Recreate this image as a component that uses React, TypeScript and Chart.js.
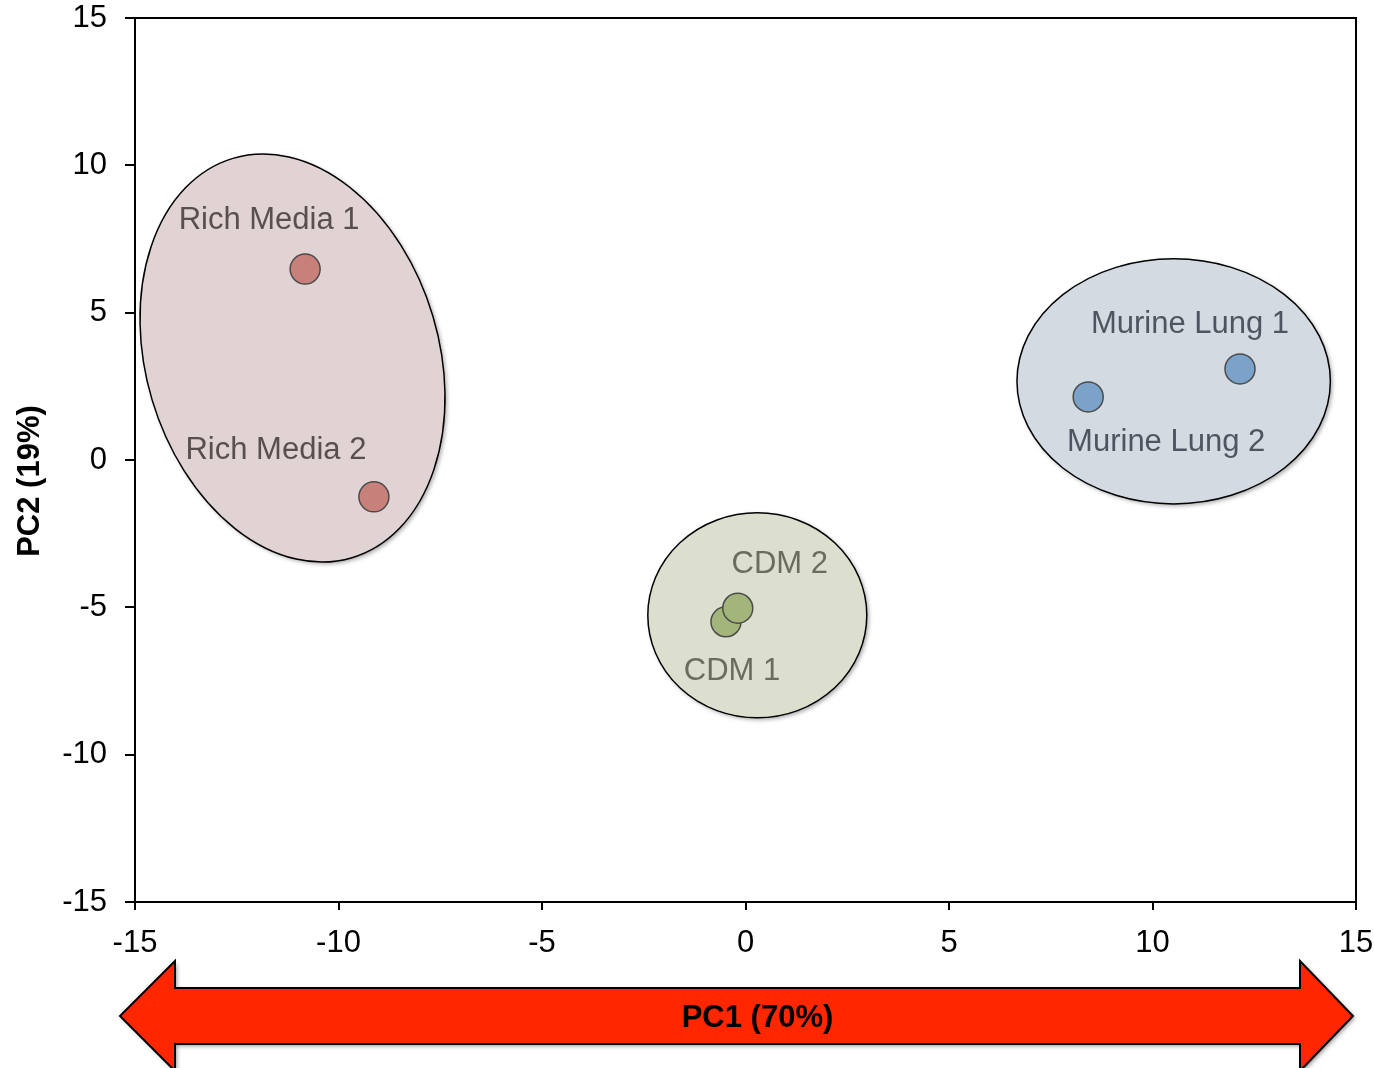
import React, { useEffect, useRef } from "react";
import { Chart, registerables } from "chart.js";

Chart.register(...registerables);

// ---- Data ----
const SAMPLE_NAMES = ["Rich Media 1", "Rich Media 2", "Murine Lung 1", "Murine Lung 2", "CDM 1", "CDM 2"];
const PC1 = [-10.82, -9.13, 12.15, 8.42, -0.48, -0.19];
const PC2 = [6.48, -1.25, 3.09, 2.14, -5.49, -5.03];
const SAMPLE_GROUP = [0, 0, 1, 1, 2, 2];
const GROUP_NAMES = ["Rich Media", "Murine Lung", "CDM"];

// group ellipses (centre in data units, radii in axis units, rotation in degrees)
const ELLIPSE_CX = [-11.13, 10.52, 0.29];
const ELLIPSE_CY = [3.46, 2.67, -5.27];
const ELLIPSE_RX = [3.6, 3.85, 2.69];
const ELLIPSE_RY = [7.07, 4.16, 3.48];
const ELLIPSE_ROT = [-16.6, 0, 0];

const X_TITLE = "PC1 (70%)";
const Y_TITLE = "PC2 (19%)";
const AXIS_MIN = -15;
const AXIS_MAX = 15;
const AXIS_STEP = 5;

// ---- Styles ----
const GROUP_POINT_COLORS = ["#c8807b", "#7ba2c9", "#a4b57c"];
const GROUP_FILL_COLORS = ["#e1d3d3", "#d3dae1", "#dcdfcd"];
const GROUP_TEXT_COLORS = ["#5a4f4f", "#4e5560", "#6a6d5c"];
// label offsets from each point (px)
const LABEL_DX = [-36, -98, -50, 78, 6, 42];
const LABEL_DY = [-49, -46, -44, 46, 50, -44];
const FONT = "'Liberation Sans', Arial, Helvetica, sans-serif";

const decorPlugin = {
  id: "decor",
  beforeDatasetsDraw(chart: any) {
    const ctx = chart.ctx;
    const xs = chart.scales.x;
    const ys = chart.scales.y;
    const pxX = Math.abs(xs.getPixelForValue(1) - xs.getPixelForValue(0));
    const pxY = Math.abs(ys.getPixelForValue(1) - ys.getPixelForValue(0));
    for (let i = 0; i < ELLIPSE_CX.length; i++) {
      const cx = xs.getPixelForValue(ELLIPSE_CX[i]);
      const cy = ys.getPixelForValue(ELLIPSE_CY[i]);
      ctx.save();
      ctx.beginPath();
      ctx.ellipse(cx, cy, ELLIPSE_RX[i] * pxX, ELLIPSE_RY[i] * pxY, (ELLIPSE_ROT[i] * Math.PI) / 180, 0, Math.PI * 2);
      ctx.shadowColor = "rgba(0,0,0,0.35)";
      ctx.shadowBlur = 4;
      ctx.shadowOffsetX = 2;
      ctx.shadowOffsetY = 2;
      ctx.fillStyle = GROUP_FILL_COLORS[i];
      ctx.fill();
      ctx.shadowColor = "rgba(0,0,0,0)";
      ctx.lineWidth = 1.5;
      ctx.strokeStyle = "#000";
      ctx.stroke();
      ctx.restore();
    }
  },
  afterDatasetsDraw(chart: any) {
    const ctx = chart.ctx;
    const xs = chart.scales.x;
    const ys = chart.scales.y;
    ctx.save();
    ctx.font = `31px ${FONT}`;
    ctx.textAlign = "center";
    ctx.textBaseline = "middle";
    for (let i = 0; i < SAMPLE_NAMES.length; i++) {
      const px = xs.getPixelForValue(PC1[i]) + LABEL_DX[i];
      const py = ys.getPixelForValue(PC2[i]) + LABEL_DY[i];
      ctx.fillStyle = GROUP_TEXT_COLORS[SAMPLE_GROUP[i]];
      ctx.fillText(SAMPLE_NAMES[i], px, py);
    }
    ctx.restore();
  },
  afterDraw(chart: any) {
    const ctx = chart.ctx;
    const a = chart.chartArea;
    ctx.save();
    // frame top/right
    ctx.strokeStyle = "#000";
    ctx.lineWidth = 2;
    ctx.beginPath();
    ctx.moveTo(a.left - 10, a.top);
    ctx.lineTo(a.right, a.top);
    ctx.lineTo(a.right, a.bottom);
    ctx.stroke();

    // y title
    ctx.save();
    ctx.translate(30, (a.top + a.bottom) / 2 + 21);
    ctx.rotate(-Math.PI / 2);
    ctx.font = `bold 31px ${FONT}`;
    ctx.fillStyle = "#000";
    ctx.textAlign = "center";
    ctx.textBaseline = "middle";
    ctx.fillText(Y_TITLE, 0, 0);
    ctx.restore();

    // red double arrow with x title
    const cy = a.bottom + 114;
    const hh = 55;
    const bh = 28;
    const lt = a.left - 15;
    const lb = a.left + 40;
    const rb = a.right - 56;
    const rt = a.right - 3;
    ctx.beginPath();
    ctx.moveTo(lt, cy);
    ctx.lineTo(lb, cy - hh);
    ctx.lineTo(lb, cy - bh);
    ctx.lineTo(rb, cy - bh);
    ctx.lineTo(rb, cy - hh);
    ctx.lineTo(rt, cy);
    ctx.lineTo(rb, cy + hh);
    ctx.lineTo(rb, cy + bh);
    ctx.lineTo(lb, cy + bh);
    ctx.lineTo(lb, cy + hh);
    ctx.closePath();
    ctx.shadowColor = "rgba(0,0,0,0.4)";
    ctx.shadowBlur = 4;
    ctx.shadowOffsetX = 2;
    ctx.shadowOffsetY = 2;
    ctx.fillStyle = "#ff2600";
    ctx.fill();
    ctx.shadowColor = "rgba(0,0,0,0)";
    ctx.lineWidth = 2;
    ctx.strokeStyle = "#000";
    ctx.stroke();

    ctx.font = `bold 31px ${FONT}`;
    ctx.fillStyle = "#000";
    ctx.textAlign = "center";
    ctx.textBaseline = "middle";
    ctx.fillText(X_TITLE, (a.left + a.right) / 2 + 12, cy + 2);
    ctx.restore();
  },
};

export default function App() {
  const ref = useRef<HTMLCanvasElement | null>(null);
  useEffect(() => {
    document.body.style.margin = "0";
    const canvas = ref.current;
    if (!canvas) return;
    const datasets = GROUP_NAMES.map((g, gi) => {
      const idx = SAMPLE_GROUP.map((sg, i) => (sg === gi ? i : -1)).filter((i) => i >= 0);
      return {
        label: g,
        data: idx.map((i) => ({ x: PC1[i], y: PC2[i] })),
        backgroundColor: GROUP_POINT_COLORS[gi],
        borderColor: "#4a4a4a",
        borderWidth: 1.5,
        pointRadius: 15,
        pointHoverRadius: 15,
      };
    });
    const tickFont = { family: FONT, size: 31 };
    const chart = new Chart(canvas, {
      type: "scatter",
      data: { datasets },
      plugins: [decorPlugin],
      options: {
        animation: false,
        responsive: true,
        maintainAspectRatio: false,
        layout: { padding: { top: 0, right: 0, left: 0, bottom: 0 } },
        plugins: { legend: { display: false }, tooltip: { enabled: false } },
        scales: {
          x: {
            type: "linear",
            min: AXIS_MIN,
            max: AXIS_MAX,
            ticks: { stepSize: AXIS_STEP, font: tickFont, color: "#000", padding: 15, maxRotation: 0 },
            grid: { display: true, drawOnChartArea: false, drawTicks: true, tickLength: 8, color: "#000", lineWidth: 2 },
            border: { display: true, color: "#000", width: 2 },
            afterFit: (s: any) => {
              s.height = 166;
              s.paddingLeft = 0;
              s.paddingRight = 18;
            },
          },
          y: {
            type: "linear",
            min: AXIS_MIN,
            max: AXIS_MAX,
            ticks: { stepSize: AXIS_STEP, font: tickFont, color: "#000", padding: 18 },
            grid: { display: true, drawOnChartArea: false, drawTicks: true, tickLength: 10, color: "#000", lineWidth: 2 },
            border: { display: true, color: "#000", width: 2 },
            afterFit: (s: any) => {
              s.width = 135;
              s.paddingTop = 18;
              s.paddingBottom = 0;
            },
          },
        },
      } as any,
    });
    return () => chart.destroy();
  }, []);
  return (
    <div style={{ position: "absolute", left: 0, top: 0, width: 1374, height: 1068, background: "#fff" }}>
      <canvas ref={ref} />
    </div>
  );
}
